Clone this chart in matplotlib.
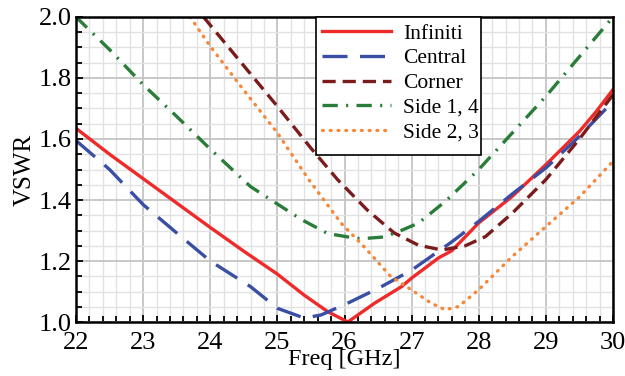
"""VSWR vs frequency for the different element positions."""

import matplotlib
matplotlib.use("Agg")
import matplotlib.pyplot as plt
from matplotlib.patches import Rectangle
from matplotlib.ticker import MultipleLocator, FormatStrFormatter

plt.rcParams["font.family"] = ["Liberation Serif", "DejaVu Serif"]
plt.rcParams["lines.scale_dashes"] = False

# curves, freq in GHz
infiniti_f = [22, 22.5, 23, 23.5, 24, 24.5, 25, 25.4, 25.75, 26.05, 26.45,
              26.85, 27.0, 27.4, 27.6, 28, 28.5, 29, 29.5, 29.75, 30]
infiniti_v = [1.635, 1.55, 1.47, 1.39, 1.31, 1.232, 1.157, 1.088, 1.034, 1.0,
              1.062, 1.116, 1.144, 1.21, 1.234, 1.325, 1.412, 1.516, 1.625,
              1.69, 1.762]

central_f = [22, 22.5, 23, 23.5, 24, 24.6, 25.0, 25.4, 25.65, 26.05, 26.5,
             27, 27.6, 28, 28.5, 29, 29.5, 30]
central_v = [1.595, 1.5, 1.385, 1.292, 1.2, 1.116, 1.045, 1.013, 1.023, 1.062,
             1.11, 1.17, 1.263, 1.33, 1.42, 1.505, 1.609, 1.723]

corner_f = [23.9, 24.5, 25, 25.5, 25.9, 26.34, 26.74, 27.1, 27.45, 27.8,
            28.1, 28.5, 29, 29.5, 30]
corner_v = [2.0, 1.84, 1.707, 1.57, 1.466, 1.367, 1.292, 1.252, 1.236, 1.25,
            1.28, 1.357, 1.467, 1.6, 1.745]

side14_f = [22, 22.5, 23, 23.5, 24, 24.6, 24.95, 25.35, 25.75, 26.05, 26.25,
            26.6, 26.8, 27.1, 27.5, 28, 28.5, 29, 29.5, 30]
side14_v = [2.0, 1.893, 1.778, 1.674, 1.567, 1.444, 1.394, 1.337, 1.29, 1.279,
            1.273, 1.279, 1.296, 1.324, 1.395, 1.5, 1.62, 1.74, 1.87, 2.0]

side23_f = [23.7, 24, 24.5, 25, 25.47, 25.95, 26.29, 26.69, 27.0, 27.29,
            27.5, 27.7, 28, 28.5, 29, 29.5, 30]
side23_v = [2.0, 1.904, 1.76, 1.62, 1.466, 1.324, 1.247, 1.149, 1.105, 1.062,
            1.04, 1.051, 1.106, 1.215, 1.313, 1.41, 1.527]

fig = plt.figure(figsize=(6.25, 3.76), dpi=100)
ax = fig.add_axes([0.1216, 0.1436, 0.8592, 0.8112])

lw = 2.4
ax.plot(infiniti_f, infiniti_v, color="#ee2a2a", lw=lw, label="Infiniti")
ax.plot(central_f, central_v, color="#3a4ea3", lw=lw, dashes=(18, 9),
        label="Central")
ax.plot(corner_f, corner_v, color="#7a1c1c", lw=lw, dashes=(9.5, 5),
        label="Corner")
ax.plot(side14_f, side14_v, color="#2a7d38", lw=lw, dashes=(11, 6, 1.5, 6),
        label="Side 1, 4")
ax.plot(side23_f, side23_v, color="#f5883a", lw=lw, dashes=(0.6, 5),
        dash_capstyle="round", label="Side 2, 3")

ax.set_xlim(22, 30)
ax.set_ylim(1.0, 2.0)
ax.xaxis.set_major_locator(MultipleLocator(1))
ax.xaxis.set_minor_locator(MultipleLocator(0.2))
ax.yaxis.set_major_locator(MultipleLocator(0.2))
ax.yaxis.set_minor_locator(MultipleLocator(0.05))
ax.yaxis.set_major_formatter(FormatStrFormatter("%.1f"))

ax.grid(which="major", color="#c4c4c4", lw=1.3)
ax.grid(which="minor", color="#e2e2e2", lw=1.0)
ax.set_axisbelow(True)

ax.tick_params(which="both", direction="in", labelsize=19, width=1.3,
               top=False, right=False)
ax.tick_params(axis="x", which="major", pad=7)
ax.tick_params(axis="y", which="major", pad=3)
ax.tick_params(which="major", length=5)
ax.tick_params(which="minor", length=4)
for s in ax.spines.values():
    s.set_linewidth(1.8)

ax.set_xlabel("Freq [GHz]", fontsize=17.5, labelpad=-3.5)
ax.set_ylabel("VSWR", fontsize=18, labelpad=2)

# legend box drawn by hand: taller at the bottom than the default frame
ax.add_patch(Rectangle((0.447, 0.5475), 0.307, 0.4525, transform=ax.transAxes,
                       facecolor="white", edgecolor="black", lw=1.2,
                       zorder=5, clip_on=False))
leg = ax.legend(loc="upper left", bbox_to_anchor=(0.447, 1.0),
                borderaxespad=0, fontsize=15.5, handlelength=3.2,
                handletextpad=0.55, labelspacing=0.22, frameon=False,
                borderpad=0.3)
leg.set_zorder(6)

fig.savefig("out.png", dpi=100)
